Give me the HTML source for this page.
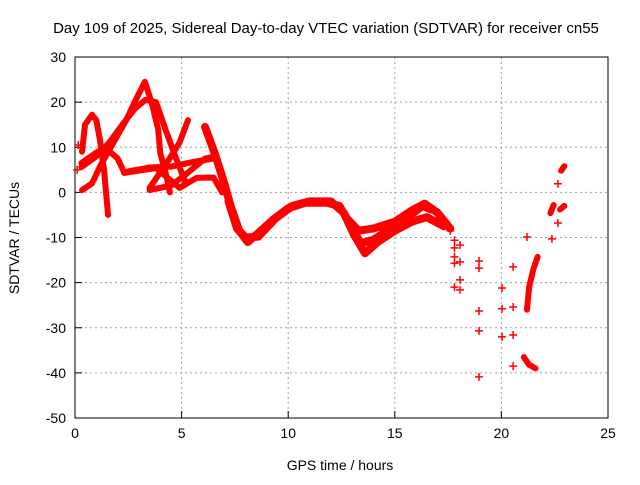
<!DOCTYPE html>
<html><head><meta charset="utf-8"><style>
body{margin:0;background:#fff}
svg text{font-family:"Liberation Sans",sans-serif;font-size:14px;fill:#000}
</style></head><body>
<svg id="chart" width="640" height="480" viewBox="0 0 640 480" xmlns="http://www.w3.org/2000/svg">
<rect width="640" height="480" fill="#fff"/>
<text x="326" y="33" text-anchor="middle" style="font-size:15px">Day 109 of 2025, Sidereal Day-to-day VTEC variation (SDTVAR) for receiver cn55</text>
<g id="grid"></g>
<g id="axes"></g>
<g id="marks"></g>
<text x="340" y="470" text-anchor="middle">GPS time / hours</text>
<text transform="translate(19,238) rotate(-90)" text-anchor="middle">SDTVAR / TECUs</text>
</svg>
<script>
const xTicks=[0,5,10,15,20,25];
const yTicks=[30,20,10,0,-10,-20,-30,-40,-50];
// dense tracks: [hours, TECU] pairs
const trackA=[[0.33,9],[0.47,15],[0.8,17.2],[1.0,16],[1.17,11.6],[1.36,5],[1.55,-5]];
const trackB=[[0.33,0.5],[0.8,2],[1.2,6],[1.8,11],[2.4,16],[2.9,21],[3.28,24.5],[3.6,19.8],[3.9,14],[4.0,8.7],[4.3,3.4],[4.45,0]];
const trackC=[[0.3,5.6],[1.0,8],[1.6,11],[2.3,15.5],[2.8,18.5],[3.3,20.5],[3.8,20],[4.2,14.5],[4.7,8],[5.2,2]];
const trackD=[[5.3,16],[4.9,11],[4.3,6.5],[3.5,1]];
const trackE=[[0.3,6.5],[0.9,8.5],[1.4,10],[2.0,7.5],[2.3,4.5],[3.5,5.5],[4.5,5.7],[5.6,6.8],[6.5,7.5]];
const trackF=[[2.3,4.3],[3.8,5.4],[4.9,1],[5.7,3.2],[6.5,3.3],[6.9,0]];
const trackG=[[3.5,0.5],[4.5,1.5],[5.2,4],[6.1,7.5],[6.6,8]];
const trackH=[[6.1,14.5],[6.6,8],[7.0,2],[7.3,-3],[7.7,-8.5],[8.1,-11],[8.6,-9],[9.3,-6],[10.0,-3.5],[10.8,-2.3],[11.8,-2.3],[12.4,-3],[12.9,-7],[13.4,-11.3],[14.0,-10.5],[14.8,-8],[15.6,-5.5],[16.3,-3],[16.7,-3.8]];
const trackI=[[7.2,-2],[7.6,-8],[8.0,-10],[8.6,-9.8],[9.4,-5.8],[10.2,-3],[11.0,-2],[12.0,-2],[12.6,-4.5],[13.1,-9.5],[13.6,-13.5],[14.2,-11],[15.0,-8.5],[15.8,-6.5],[16.5,-5.5],[17.3,-7.5]];
const trackJ=[[12.8,-6],[13.3,-8.5],[14.0,-8],[15.0,-6.5],[15.8,-4],[16.4,-2.5],[17.0,-4.5],[17.6,-8]];
const trackK=[[21.2,-26],[21.3,-21],[21.5,-17],[21.7,-14.3]];
const trackL=[[21.05,-36.5],[21.3,-38.2],[21.6,-39]];
const trackM=[[22.3,-4.6],[22.45,-2.8]];
const trackN=[[22.75,-3.8],[22.95,-3]];
const trackO=[[22.8,4.8],[22.95,5.8]];
// sparse points
const sparseH=[0.15,0.1,17.8,18.06,17.8,17.8,17.8,18.06,18.06,17.8,18.06,18.95,18.95,18.95,18.95,18.95,20.03,20.03,20.03,20.55,20.55,20.55,20.55,21.2,22.37,22.65,22.65,17.3,17.6];
const sparseV=[10.5,5,-10.6,-11.7,-12.3,-14.3,-15.7,-15.4,-19.4,-21,-21.6,-15.2,-16.8,-26.3,-30.7,-40.9,-21.2,-25.8,-32,-16.5,-25.4,-31.6,-38.5,-9.9,-10.3,-6.8,1.9,-7.5,-8.5];

const NS='http://www.w3.org/2000/svg';
const L=75,R=608,T=57,B=418;
const X=h=>L+(h-0)/(25-0)*(R-L);
const Y=v=>T+(30-v)/(80)*(B-T);
function mk(tag,attrs,parent){const e=document.createElementNS(NS,tag);for(const k in attrs)e.setAttribute(k,attrs[k]);parent.appendChild(e);return e;}
const grid=document.getElementById('grid'),axes=document.getElementById('axes'),marks=document.getElementById('marks');
xTicks.forEach(t=>{
  if(t>0&&t<25){const g=mk('line',{x1:X(t),x2:X(t),y1:T,y2:B,stroke:'#a0a0a0','stroke-dasharray':'2,3'},grid);
  
  }
  const tk=mk('line',{x1:X(t),x2:X(t),y1:B,y2:B-7,stroke:'#000'},axes);
  
  
  const tx=mk('text',{x:X(t),y:B+20,'text-anchor':'middle'},axes);tx.textContent=t;
  
  
});
yTicks.forEach(t=>{
  if(t<30&&t>-50){const g=mk('line',{x1:L,x2:R,y1:Y(t),y2:Y(t),stroke:'#a0a0a0','stroke-dasharray':'2,3'},grid);
  
  }
  const tk=mk('line',{x1:L,x2:L+7,y1:Y(t),y2:Y(t),stroke:'#000'},axes);
  
  
  const tx=mk('text',{x:L-9,y:Y(t)+5,'text-anchor':'end'},axes);tx.textContent=t;
  
  
});
const fr=mk('rect',{x:L,y:T,width:R-L,height:B-T,fill:'none',stroke:'#000'},axes);


const tracks=[trackA,trackB,trackC,trackD,trackE,trackF,trackG,trackH,trackI,trackJ,trackK,trackL,trackM,trackN,trackO];
tracks.forEach(tr=>{
  const w=(tr===trackH||tr===trackI||tr===trackJ)?8:6;
  const p=mk('polyline',{points:tr.map(d=>X(d[0])+','+Y(d[1])).join(' '),fill:'none',stroke:'#f00','stroke-width':w,'stroke-linejoin':'round','stroke-linecap':'round'},marks);
  
  
});
sparseH.forEach((h,i)=>{
  const x=X(h),y=Y(sparseV[i]);
  const p=mk('path',{d:`M${x-4},${y}H${x+4}M${x},${y-4}V${y+4}`,stroke:'#f00','stroke-width':1.5},marks);
  
  
});
</script>
</body></html>
